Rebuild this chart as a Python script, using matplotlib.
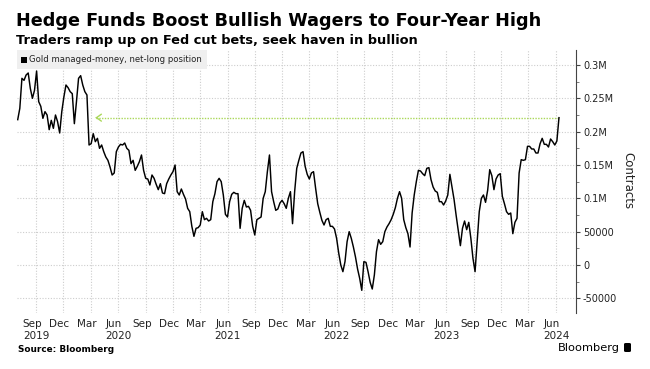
import matplotlib
matplotlib.use("Agg")
import matplotlib.pyplot as plt
import matplotlib.dates as mdates
import matplotlib.transforms as mtransforms
from matplotlib.patches import Rectangle, FancyBboxPatch
import numpy as np
import pandas as pd

# ---------------- data (weekly, thousands of contracts) ----------------
start_date = "2019-07-02"
net_long_2019 = [218, 235, 280, 277, 285, 288, 265, 250, 262, 291, 245, 238, 220, 230,
                 225, 203, 217, 205, 225, 215, 198, 230, 252, 270, 266, 260, 257]
net_long_2020 = [212, 245, 280, 284, 270, 260, 255, 180, 182, 197, 185, 190, 175, 180,
                 170, 162, 157, 147, 135, 138, 170, 177, 181, 180, 183, 175, 172, 152,
                 157, 142, 148, 155, 165, 142, 130, 129, 120, 135, 130, 121, 113, 122,
                 108, 107, 122, 129, 135, 140, 150, 110, 105, 114]
net_long_2021 = [106, 99, 85, 80, 58, 43, 55, 56, 60, 80, 68, 70, 66, 68, 95, 107, 125,
                 130, 125, 105, 76, 72, 95, 106, 109, 107, 107, 55, 85, 97, 87, 88, 82,
                 58, 45, 68, 70, 72, 100, 110, 140, 165, 110, 95, 82, 84, 93, 97, 92,
                 85, 100, 110]
net_long_2022 = [62, 110, 145, 157, 168, 170, 148, 136, 129, 138, 140, 115, 92, 79, 67,
                 60, 68, 70, 58, 58, 54, 40, 18, 0, -10, 5, 35, 50, 40, 27, 12, -6, -20,
                 -38, 5, 4, -10, -26, -36, -15, 20, 38, 31, 35, 50, 57, 62, 68, 76, 86,
                 100, 110]
net_long_2023 = [100, 68, 56, 47, 27, 78, 105, 125, 142, 141, 137, 134, 145, 146, 128,
                 117, 111, 109, 95, 95, 90, 96, 105, 136, 117, 98, 74, 52, 29, 55, 66,
                 53, 64, 40, 10, -10, 35, 80, 100, 105, 94, 112, 143, 134, 113, 129, 135,
                 137, 103, 92, 80, 76]
net_long_2024 = [78, 47, 64, 70, 138, 158, 157, 158, 178, 178, 174, 174, 168, 168, 182,
                 190, 181, 181, 177, 189, 185, 180, 186, 221]

y_ticks = [-50000, 0, 50000, 100000, 150000, 200000, 250000, 300000]
y_tick_labels = ["-50000", "0", "50000", "0.1M", "0.15M", "0.2M", "0.25M", "0.3M"]
month_ticks = pd.date_range("2019-09-01", "2024-06-01", freq="3MS")
year_labels = [("2019-09-01", "2019"), ("2020-06-01", "2020"), ("2021-06-01", "2021"),
               ("2022-06-01", "2022"), ("2023-06-01", "2023"), ("2024-06-01", "2024")]
arrow_target_date = "2020-03-17"

title = "Hedge Funds Boost Bullish Wagers to Four-Year High"
subtitle = "Traders ramp up on Fed cut bets, seek haven in bullion"
series_name = "Gold managed-money, net-long position"

# ---------------- build series ----------------
net_long_k = (net_long_2019 + net_long_2020 + net_long_2021 + net_long_2022
              + net_long_2023 + net_long_2024)
values = np.array(net_long_k, dtype=float) * 1000
dates = pd.date_range(start_date, periods=len(values), freq="7D")

W, H = 650, 369
fig = plt.figure(figsize=(W / 100, H / 100), dpi=100)
ax_l, ax_r, ax_t, ax_b = 17, 576, 50, 313
ax = fig.add_axes([ax_l / W, 1 - ax_b / H, (ax_r - ax_l) / W, (ax_b - ax_t) / H])

ax.plot(dates, values, color="black", lw=1.05, zorder=3)

# x scale: anchor grid positions
anchor = mdates.date2num(pd.Timestamp("2019-09-01"))
px_per_day = 0.2997
ax.set_xlim(anchor - (36 - ax_l) / px_per_day, anchor + (ax_r - 36) / px_per_day)
ax.set_ylim((265 - ax_b) * 1500, (265 - ax_t) * 1500)

# y axis on right
ax.yaxis.tick_right()
ax.set_yticks(y_ticks)
ax.set_yticklabels(y_tick_labels, fontsize=7, color="#222222")
ax.set_yticks(np.arange(-50000, 325000, 25000), minor=True)
ax.tick_params(axis="y", which="major", length=3, width=0.8, color="#444444", pad=2)
ax.tick_params(axis="y", which="minor", length=2, width=0.6, color="#666666")

# x axis
ax.set_xticks(month_ticks)
ax.set_xticklabels([d.strftime("%b") for d in month_ticks], fontsize=7.5, color="#222222")
ax.tick_params(axis="x", which="both", length=0, pad=4)
offset = mtransforms.ScaledTranslation(-4 / 100, 0, fig.dpi_scale_trans)
for lbl in ax.get_xticklabels():
    lbl.set_transform(lbl.get_transform() + offset)
trans = mtransforms.blended_transform_factory(ax.transData, ax.transAxes)
for d, y in year_labels:
    ax.text(pd.Timestamp(d), -0.088, y, transform=trans, ha="center", va="center",
            fontsize=7.5, color="#222222")

# grid
ax.grid(True, which="major", color="#cdcdcd", linestyle=(0, (1, 1.5)), lw=0.8, zorder=0)
for s in ["top", "left", "bottom"]:
    ax.spines[s].set_visible(False)
ax.spines["right"].set_color("#444444")
ax.spines["right"].set_linewidth(0.8)

# green arrow
last_date, last_val = dates[-1], values[-1]
green = "#aad85a"
ax.plot([pd.Timestamp(arrow_target_date) + pd.Timedelta(days=3), last_date],
        [last_val, last_val], color=green, lw=1.0, linestyle=(0, (1, 1)), zorder=2)
ax.annotate("", xy=(pd.Timestamp(arrow_target_date), last_val),
            xytext=(pd.Timestamp(arrow_target_date) + pd.Timedelta(days=12), last_val),
            arrowprops=dict(arrowstyle="->,head_length=0.35,head_width=0.25",
                            color=green, lw=1.0), zorder=2)

# legend box
axw = ax_r - ax_l
axh = ax_b - ax_t
ax.add_patch(Rectangle((0, 1 - 19 / axh), (207 - ax_l) / axw, 19 / axh,
                       transform=ax.transAxes, facecolor="#efefef", edgecolor="none",
                       zorder=4))
ax.add_patch(Rectangle((3.5 / axw, 1 - 13 / axh), 6 / axw, 6 / axh,
                       transform=ax.transAxes, facecolor="black", edgecolor="none",
                       zorder=5))
ax.text(12 / axw, 1 - 10 / axh, series_name, transform=ax.transAxes, fontsize=6.1,
        va="center", ha="left", color="#222222", zorder=5)

# titles
fig.text(16 / W, 1 - 26 / H, title, fontsize=12.7, fontweight="bold", va="baseline",
         ha="left", color="black")
fig.text(16 / W, 1 - 44 / H, subtitle, fontsize=9.3, fontweight="bold", va="baseline",
         ha="left", color="black")
fig.text(628 / W, 1 - 181 / H, "Contracts", rotation=270, fontsize=8.5, va="center",
         ha="center", color="#222222")
fig.text(18 / W, 1 - 352 / H, "Source: Bloomberg", fontsize=6.4, fontweight="bold",
         va="baseline", ha="left", color="black")
fig.text(620 / W, 1 - 351 / H, "Bloomberg", fontsize=8.2, va="baseline", ha="right",
         color="black")
fig.patches.append(FancyBboxPatch((624 / W, 1 - 352 / H), 7 / W, 9 / H,
                                  boxstyle="round,pad=0,rounding_size=0.003",
                                  transform=fig.transFigure, facecolor="black",
                                  edgecolor="none"))

fig.savefig("out.png", dpi=100)
